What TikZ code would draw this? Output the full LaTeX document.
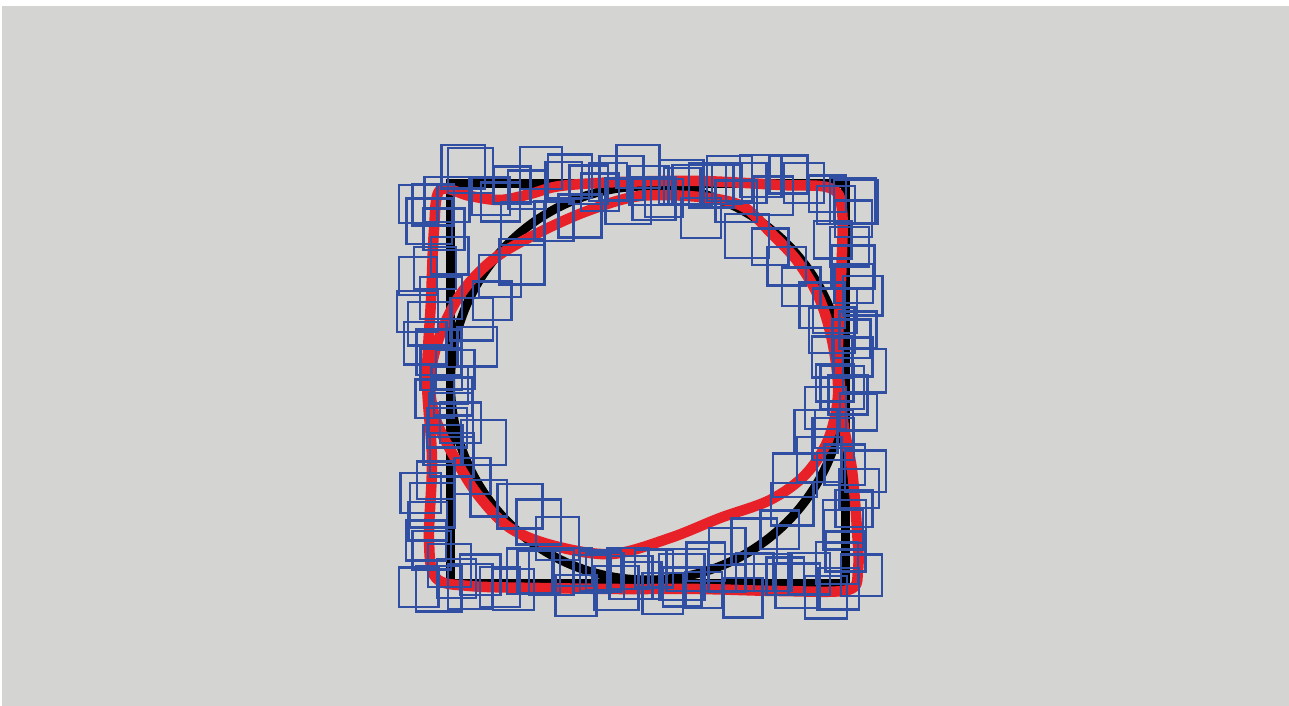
\documentclass[tikz,border=0pt]{standalone}
\usetikzlibrary{calc}

\definecolor{bgGray}{RGB}{212,212,210}
\definecolor{traceRed}{RGB}{232,32,40}
\definecolor{patchBlue}{RGB}{48,78,162}

\begin{document}
\begin{tikzpicture}[
    x=1pt, y=-1pt,
    frame/.style={draw=black, line width=9pt},
    trace/.style={draw=traceRed, line width=10.5pt, line cap=round, line join=round},
    patch/.style={draw=patchBlue, line width=2.4pt}
]

% canvas
\useasboundingbox (0,0) rectangle (1289,706);
\fill[white] (0,0) rectangle (1289,706);
\fill[bgGray] (2,6) rectangle (1289,706);

% target shape
\draw[frame] (450,183) rectangle (845,583);
\draw[frame] (647.5,383) circle[radius=197pt];

% hand drawn traces
\draw[trace] plot[smooth cycle, tension=0.55] coordinates {
    (440,190) (470,196) (500,200) (530,194) (560,186) (620,182)
    (700,181) (780,185) (830,188) (842,210) (841,280) (838,350)
    (843,420) (852,470) (857,530) (858,570) (848,590) (780,591)
    (700,589) (620,589) (540,588) (470,586) (436,578) (429,540)
    (432,460) (427,380) (431,300) (434,230)};
\draw[trace] plot[smooth cycle, tension=0.55] coordinates {
    (640,196) (700,197) (742,206) (770,232) (798,262) (820,300)
    (833,345) (838,395) (828,440) (805,475) (770,500) (720,518)
    (670,538) (612,554) (555,546) (510,528) (478,495) (456,460)
    (436,420) (430,380) (440,335) (462,292) (495,258) (540,232)
    (590,210)};

% sampled patches
\pgfmathsetseed{706}
\foreach \i in {0,...,29}{
    \pgfmathsetmacro\cx{430+\i*14.5+6*rand}
    \pgfmathsetmacro\cy{186+20*rand}
    \pgfmathsetmacro\sz{36+10*rnd}
    \draw[patch] (\cx-\sz/2,\cy-\sz/2) rectangle (\cx+\sz/2,\cy+\sz/2);
}
\foreach \i in {0,...,29}{
    \pgfmathsetmacro\cx{422+\i*15+6*rand}
    \pgfmathsetmacro\cy{584+14*rand}
    \pgfmathsetmacro\sz{36+10*rnd}
    \draw[patch] (\cx-\sz/2,\cy-\sz/2) rectangle (\cx+\sz/2,\cy+\sz/2);
}
\foreach \i in {0,...,24}{
    \pgfmathsetmacro\cx{434+18*rand}
    \pgfmathsetmacro\cy{205+\i*15+6*rand}
    \pgfmathsetmacro\sz{36+10*rnd}
    \draw[patch] (\cx-\sz/2,\cy-\sz/2) rectangle (\cx+\sz/2,\cy+\sz/2);
}
\foreach \i in {0,...,24}{
    \pgfmathsetmacro\cx{848+18*rand}
    \pgfmathsetmacro\cy{205+\i*15+6*rand}
    \pgfmathsetmacro\sz{36+10*rnd}
    \draw[patch] (\cx-\sz/2,\cy-\sz/2) rectangle (\cx+\sz/2,\cy+\sz/2);
}
\foreach \a in {0,8,...,352}{
    \pgfmathsetmacro\rr{188+16*rand}
    \pgfmathsetmacro\cx{647.5+\rr*cos(\a)}
    \pgfmathsetmacro\cy{383-\rr*sin(\a)}
    \pgfmathsetmacro\sz{36+10*rnd}
    \draw[patch] (\cx-\sz/2,\cy-\sz/2) rectangle (\cx+\sz/2,\cy+\sz/2);
}

\end{tikzpicture}
\end{document}
